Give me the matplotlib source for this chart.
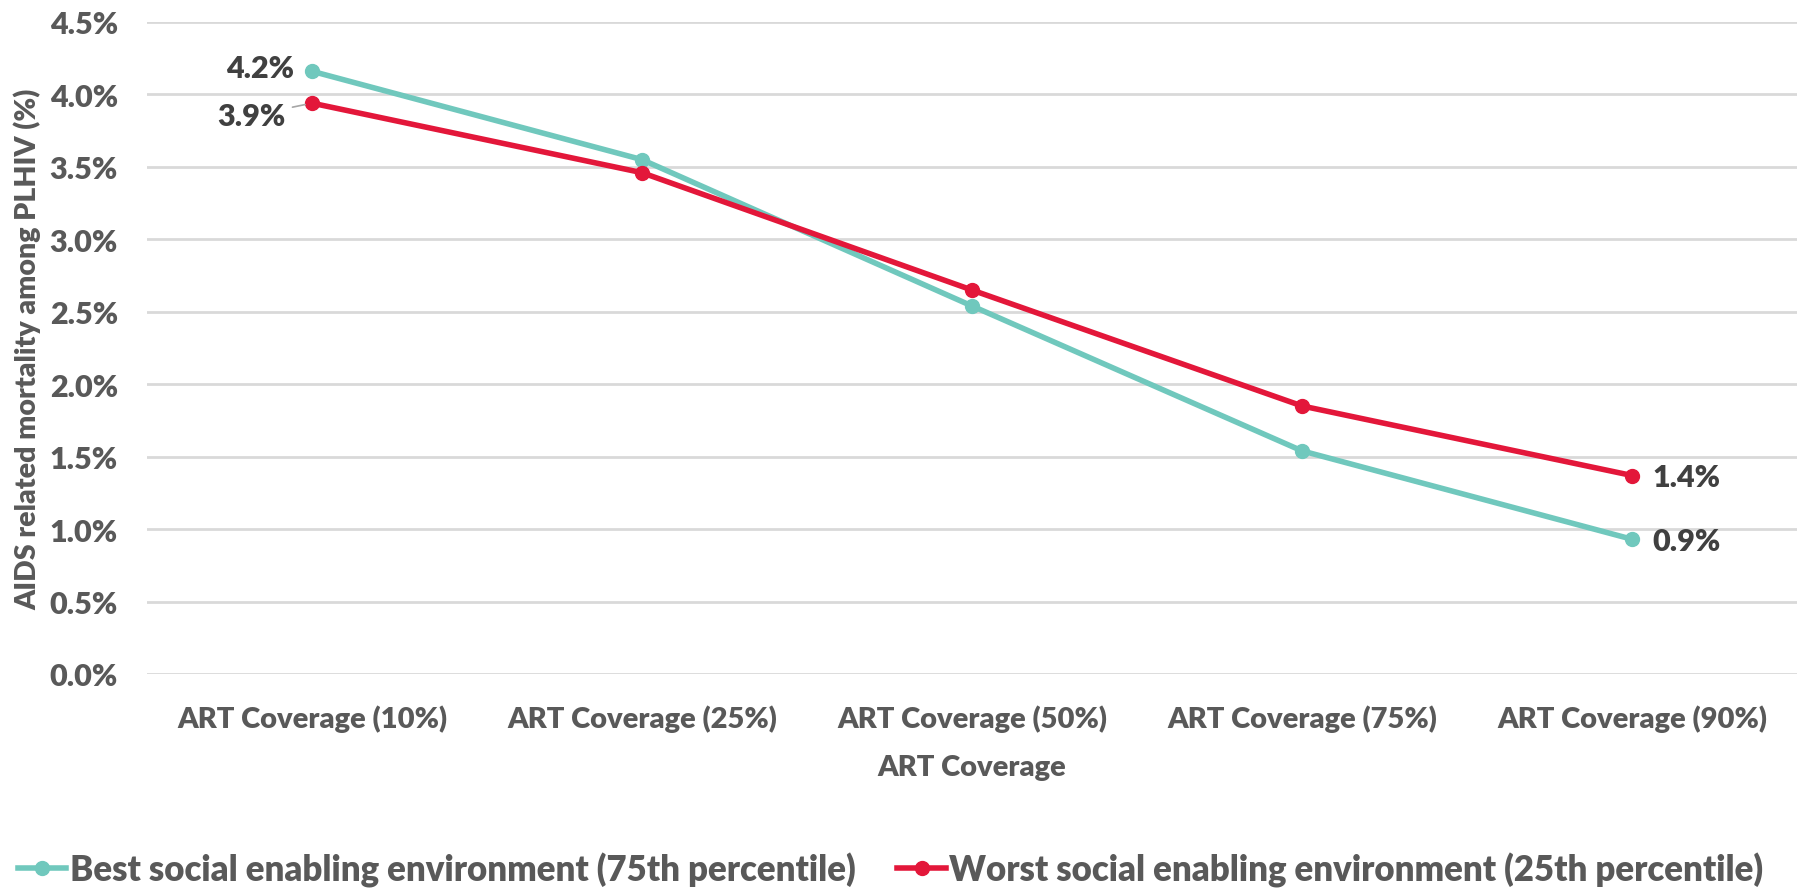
import matplotlib
matplotlib.use("Agg")
import matplotlib.pyplot as plt
from matplotlib.ticker import FuncFormatter
from matplotlib.lines import Line2D

categories = ["ART Coverage (10%)", "ART Coverage (25%)", "ART Coverage (50%)",
              "ART Coverage (75%)", "ART Coverage (90%)"]
best = [4.16, 3.55, 2.54, 1.54, 0.93]
worst = [3.94, 3.46, 2.65, 1.85, 1.37]
series_names = ["Best social enabling environment (75th percentile)",
                "Worst social enabling environment (25th percentile)"]
teal = "#70C8BD"
red = "#E3173A"
txt = "#595959"
lbl = "#404040"

plt.rcParams['font.family'] = ['Lato', 'DejaVu Sans']
W = 'heavy'

fig = plt.figure(figsize=(18.03, 8.95), dpi=100)
ax = fig.add_axes([147/1803, 1-675/895, (1797-147)/1803, (675-23)/895])
x = list(range(len(categories)))
ax.plot(x, best, color=teal, lw=4, marker='o', ms=10, zorder=3)
ax.plot(x, worst, color=red, lw=4, marker='o', ms=10, zorder=3)

ax.set_xlim(-0.5, 4.5)
ax.set_ylim(0, 4.5)
ax.set_yticks([i*0.5 for i in range(10)])
ax.yaxis.set_major_formatter(FuncFormatter(lambda v, p: f"{v:.1f}%"))
ax.set_xticks(x)
ax.set_xticklabels(categories)
ax.grid(axis='y', color='#D9D9D9', lw=2)
ax.set_axisbelow(True)
for s in ax.spines.values():
    s.set_visible(False)
ax.tick_params(length=0, labelcolor=txt)
ax.tick_params(axis='x', labelsize=21, pad=22)
ax.tick_params(axis='y', labelsize=22, pad=21)
for t in ax.get_xticklabels() + ax.get_yticklabels():
    t.set_fontweight(W)

ax.set_xlabel("ART Coverage", fontsize=21, color=txt, fontweight=W, labelpad=16)
ax.set_ylabel("AIDS related mortality among PLHIV (%)", fontsize=20.5, color=txt,
              fontweight=W, labelpad=6)

# data labels
ax.annotate(f"{best[0]:.1f}%", (x[0], best[0]), xytext=(-13, 2), textcoords='offset points',
            ha='right', va='center', fontsize=22, fontweight=W, color=lbl)
ax.annotate(f"{worst[0]:.1f}%", (x[0], worst[0]), xytext=(-19, -9), textcoords='offset points',
            ha='right', va='center', fontsize=22, fontweight=W, color=lbl,
            arrowprops=dict(arrowstyle='-', color='#A6A6A6', lw=1.2, shrinkA=3, shrinkB=5))
ax.annotate(f"{worst[-1]:.1f}%", (x[-1], worst[-1]), xytext=(15, -1), textcoords='offset points',
            ha='left', va='center', fontsize=22, fontweight=W, color=lbl)
ax.annotate(f"{best[-1]:.1f}%", (x[-1], best[-1]), xytext=(15, -1), textcoords='offset points',
            ha='left', va='center', fontsize=22, fontweight=W, color=lbl)

handles = [Line2D([], [], color=teal, lw=4, marker='o', ms=10),
           Line2D([], [], color=red, lw=4, marker='o', ms=10)]
fig.legend(handles, series_names, loc='center', bbox_to_anchor=(0.494, 1-870/895),
           ncol=2, frameon=False, labelcolor=txt, handlelength=1.4,
           handletextpad=0.1, columnspacing=1.2, borderpad=0, borderaxespad=0,
           prop={'weight': W, 'size': 25})

fig.savefig("out.png", dpi=100)
